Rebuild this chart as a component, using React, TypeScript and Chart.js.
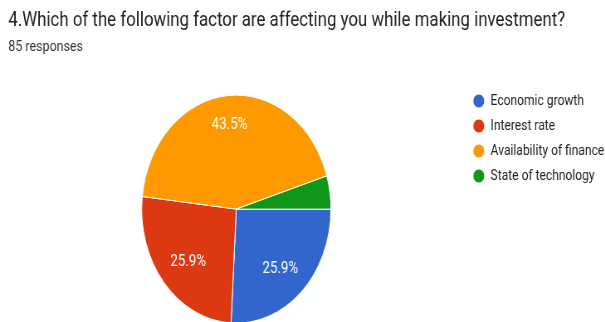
import { useEffect, useRef } from "react";
import { Chart, registerables } from "chart.js";

Chart.register(...registerables);

const titleText = "4.Which of the following factor are affecting you while making investment?";
const subtitleText = "85 responses";
const categories = ["Economic growth", "Interest rate", "Availability of finance", "State of technology"];
const responses = [22, 22, 37, 4];
const sliceColors = ["#3366cc", "#dc3912", "#ff9900", "#109618"];

const SCALE_X = 0.83;
const VIEW_H = 322;
const CANVAS_H = 335;
const LEGEND_LEFT = 559;
const LEGEND_FONT = 14.5;
const LEGEND_PAD = 10.5;
const LEGEND_BOX_W = 14;
const FONT = "Roboto";

const sliceLabels = {
  id: "sliceLabels",
  afterDatasetsDraw(chart: any) {
    const ctx = chart.ctx;
    const meta = chart.getDatasetMeta(0);
    const values = chart.data.datasets[0].data as number[];
    const total = values.reduce((a, b) => a + b, 0);
    ctx.save();
    ctx.font = `16px ${FONT}`;
    ctx.fillStyle = "#ffffff";
    ctx.textAlign = "center";
    ctx.textBaseline = "middle";
    meta.data.forEach((arc: any, i: number) => {
      const pct = (values[i] / total) * 100;
      if (pct < 5) return;
      const p = arc.getProps(["x", "y", "startAngle", "endAngle", "outerRadius"], true);
      const mid = (p.startAngle + p.endAngle) / 2;
      const text = pct.toFixed(1) + "%";
      const w = ctx.measureText(text).width;
      const c = Math.cos(mid);
      const s = Math.sin(mid);
      const d = p.outerRadius * 0.85 - (Math.abs(c) * w) / 2 - Math.abs(s) * 7;
      ctx.fillText(text, p.x + c * d, p.y + s * d + 3.5);
    });
    ctx.restore();
  },
};

export default function App() {
  const canvasRef = useRef<HTMLCanvasElement | null>(null);
  const innerRef = useRef<HTMLDivElement | null>(null);

  useEffect(() => {
    const canvas = canvasRef.current;
    if (!canvas) return;
    const mctx = document.createElement("canvas").getContext("2d")!;
    mctx.font = `${LEGEND_FONT}px ${FONT}`;
    const maxText = Math.max(...categories.map((c) => mctx.measureText(c).width));
    const W = Math.ceil(LEGEND_LEFT + LEGEND_PAD + LEGEND_BOX_W + LEGEND_FONT / 2 + maxText + 10);
    canvas.width = W;
    canvas.height = CANVAS_H;
    canvas.style.width = W + "px";
    canvas.style.height = CANVAS_H + "px";
    if (innerRef.current) innerRef.current.style.width = W + "px";

    const chart = new Chart(canvas, {
      type: "pie",
      data: {
        labels: categories,
        datasets: [
          {
            data: responses,
            backgroundColor: sliceColors,
            borderColor: "#ffffff",
            borderWidth: 1,
            hoverOffset: 0,
            radius: 114,
          },
        ],
      },
      options: {
        responsive: false,
        animation: false,
        rotation: 90,
        layout: { padding: { left: 10, right: 0, top: 0, bottom: 0 } },
        plugins: {
          title: {
            display: true,
            text: titleText,
            align: "start",
            color: "#202124",
            font: { family: FONT, size: 20.3, weight: "normal" },
            padding: { top: 9, bottom: 4.5 },
          },
          subtitle: {
            display: true,
            text: subtitleText,
            align: "start",
            color: "#333333",
            font: { family: FONT, size: 15, weight: "normal" },
            padding: { top: 0, bottom: 27.4 },
          },
          legend: {
            position: "right",
            align: "start",
            fullSize: false,
            labels: {
              usePointStyle: true,
              pointStyle: "circle",
              boxWidth: LEGEND_BOX_W,
              boxHeight: 10,
              padding: LEGEND_PAD,
              color: "#222222",
              font: { family: FONT, size: LEGEND_FONT },
            },
          },
          tooltip: { enabled: false },
        },
      },
      plugins: [sliceLabels],
    });
    return () => chart.destroy();
  }, []);

  return (
    <div
      style={{
        position: "fixed",
        left: 0,
        top: 0,
        width: 605,
        height: VIEW_H,
        overflow: "hidden",
        background: "#ffffff",
      }}
    >
      <div
        ref={innerRef}
        style={{
          width: 740,
          height: CANVAS_H,
          transform: `scaleX(${SCALE_X})`,
          transformOrigin: "0 0",
        }}
      >
        <canvas ref={canvasRef} style={{ display: "block" }} />
      </div>
    </div>
  );
}
